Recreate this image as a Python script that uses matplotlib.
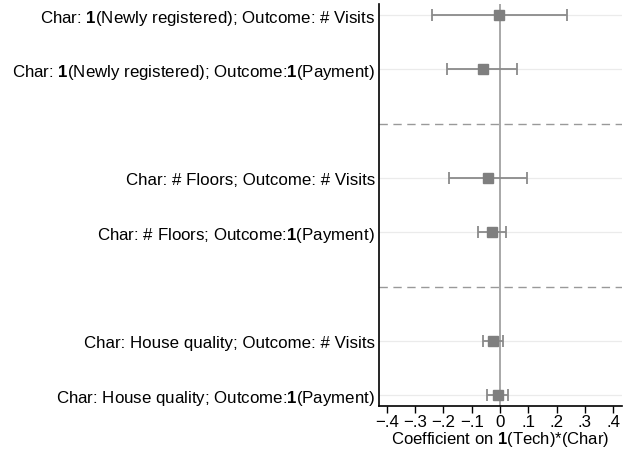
import matplotlib
matplotlib.use("Agg")
import matplotlib.pyplot as plt

plt.rcParams['font.family'] = ['Liberation Sans', 'DejaVu Sans']
plt.rcParams['mathtext.fontset'] = 'custom'
plt.rcParams['mathtext.bf'] = 'Liberation Sans:bold'
plt.rcParams['mathtext.rm'] = 'Liberation Sans'

# row labels, top to bottom
labels = [
    r"Char: $\mathbf{1}$(Newly registered); Outcome: # Visits",
    r"Char: $\mathbf{1}$(Newly registered); Outcome:$\mathbf{1}$(Payment)",
    r"Char: # Floors; Outcome: # Visits",
    r"Char: # Floors; Outcome:$\mathbf{1}$(Payment)",
    r"Char: House quality; Outcome: # Visits",
    r"Char: House quality; Outcome:$\mathbf{1}$(Payment)",
]
coef = [-0.003, -0.061, -0.043, -0.029, -0.026, -0.008]
ci_lo = [-0.241, -0.186, -0.181, -0.079, -0.060, -0.046]
ci_hi = [0.236, 0.060, 0.096, 0.022, 0.011, 0.028]
# y positions, with gaps for the group separators
ypos = [1, 2, 4, 5, 7, 8]
separators = [3, 6]
xticks = [-0.4, -0.3, -0.2, -0.1, 0, 0.1, 0.2, 0.3, 0.4]
xticklabels = ["\u2212.4", "\u2212.3", "\u2212.2", "\u2212.1", "0", ".1", ".2", ".3", ".4"]

fig = plt.figure(figsize=(6.3, 4.52), dpi=100)
ax = fig.add_axes([0.6016, 0.0996, 0.3854, 0.889])

for y in ypos:
    ax.axhline(y, color="#ebebeb", lw=0.9, zorder=0)
for s in separators:
    ax.axhline(s, color="#999999", lw=1.0, ls=(0, (6, 4)), zorder=1)
ax.axvline(0, color="#999999", lw=1.2, zorder=1)

err_lo = [c - l for c, l in zip(coef, ci_lo)]
err_hi = [h - c for c, h in zip(coef, ci_hi)]
ax.errorbar(coef, ypos, xerr=[err_lo, err_hi], fmt="s", color="#7f7f7f",
            ecolor="#8a8a8a", elinewidth=1.3, capsize=4, capthick=1.3,
            markersize=7, zorder=3)

ax.set_xlim(-0.427, 0.43)
ax.set_ylim(8.2, 0.8)
ax.set_yticks(ypos)
ax.set_yticklabels(labels, fontsize=12.2)
ax.tick_params(axis="y", length=0, pad=3)
ax.set_xticks(xticks)
ax.set_xticklabels(xticklabels, fontsize=12.2)
ax.tick_params(axis="x", length=5, width=1, pad=1)
ax.set_xlabel(r"Coefficient on $\mathbf{1}$(Tech)*(Char)", fontsize=12, labelpad=0)

ax.spines["top"].set_visible(False)
ax.spines["right"].set_visible(False)
ax.spines["left"].set_linewidth(1.2)
ax.spines["bottom"].set_linewidth(1.2)

fig.savefig("out.png", dpi=100)
